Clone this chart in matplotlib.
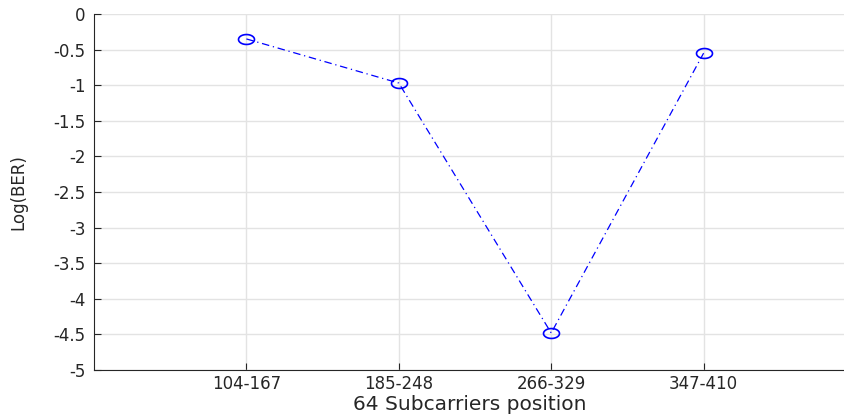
import matplotlib.pyplot as plt
import numpy as np
from matplotlib.path import Path

# BER per subcarrier block
positions = ['104-167', '185-248', '266-329', '347-410']
log_ber = [-0.35, -0.97, -4.48, -0.55]

plt.rcParams['font.family'] = ['DejaVu Sans']

# wide ellipse marker (reference is stretched horizontally)
t = np.linspace(0, 2 * np.pi, 60)
ellipse = Path(np.column_stack([np.cos(t), 0.62 * np.sin(t)]), closed=True)

fig = plt.figure(figsize=(8.44, 4.18), dpi=100)
ax = fig.add_axes([94 / 844, 48 / 418, 762 / 844, 356 / 418])

x = np.arange(1, len(positions) + 1)
ax.plot(x, log_ber, color='#0000ff', linestyle=(0, (6, 3, 1, 3)), linewidth=0.9,
        marker=ellipse, markersize=11.5, markerfacecolor='none',
        markeredgecolor='#0000ff', markeredgewidth=1.2)

ax.set_xlim(0, 5)
ax.set_ylim(-5, 0)
ax.set_xticks(x)
ax.set_xticklabels(positions)
ax.set_yticks(np.arange(-5, 0.01, 0.5))
ax.set_yticklabels(['-5', '-4.5', '-4', '-3.5', '-3', '-2.5', '-2', '-1.5', '-1', '-0.5', '0'])

ax.grid(True, color='#e3e3e3', linewidth=1)
ax.set_axisbelow(True)
ax.tick_params(direction='in', length=5, width=0.8, colors='#262626', labelsize=12)
ax.tick_params(axis='y', pad=6)
for s in ['top', 'right']:
    ax.spines[s].set_visible(False)
for s in ['left', 'bottom']:
    ax.spines[s].set_color('#262626')
    ax.spines[s].set_linewidth(0.8)

ax.set_xlabel('64 Subcarriers position', fontsize=14.5, color='#262626')
ax.set_ylabel('Log(BER)', fontsize=12, color='#262626')
ax.xaxis.set_label_coords((470 - 94) / 762, -(395 - 370) / 356)
ax.yaxis.set_label_coords(-(94 - 27) / 762, 0.5)

fig.savefig('out.png', dpi=100)
